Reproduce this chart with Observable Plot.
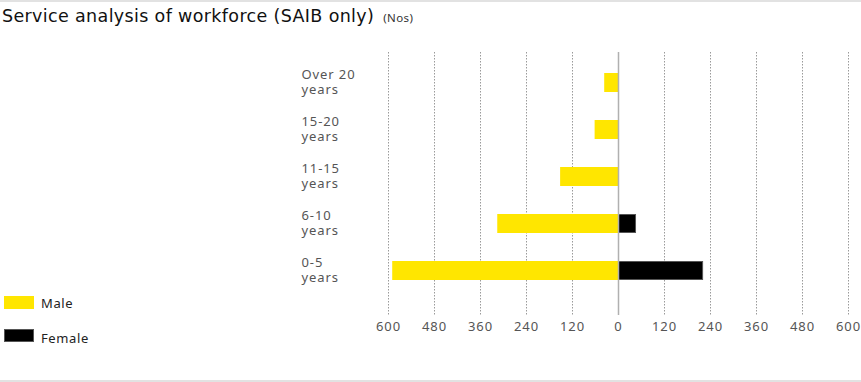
<!DOCTYPE html>
<html>
<head>
<meta charset="utf-8">
<script src="https://cdn.jsdelivr.net/npm/d3@7"></script>
<script src="https://cdn.jsdelivr.net/npm/@observablehq/plot@0.6"></script>
<style>
  html, body { margin: 0; padding: 0; background: #fff; }
  body { width: 861px; height: 382px; position: relative; overflow: hidden; font-family: "Noto Sans", sans-serif; }
  .bar-top { position: absolute; left: 0; top: 0; width: 861px; height: 2px; background: #e2e2e2; }
  .bar-bottom { position: absolute; left: 0; top: 380px; width: 861px; height: 2px; background: #e2e2e2; }
  #title { position: absolute; left: 2px; top: 6px; font-family: "DejaVu Sans", sans-serif; font-size: 17.5px; color: #111; white-space: nowrap; letter-spacing: 0.35px; }
  #title .unit { font-family: "Noto Sans", sans-serif; font-size: 11.5px; color: #333; margin-left: 9px; letter-spacing: 0.4px; }
  #chart { position: absolute; left: 0; top: 40px; }
  .legend { position: absolute; left: 4px; font-size: 13px; color: #222; letter-spacing: 0.6px; }
  .legend .sw { position: absolute; left: 0; width: 30px; height: 13px; }
  .legend .lb { position: absolute; left: 37px; white-space: nowrap; line-height: 16px; }
</style>
</head>
<body>
<div class="bar-top"></div>
<div class="bar-bottom"></div>
<div id="title">Service analysis of workforce (SAIB only)<span class="unit">(Nos)</span></div>
<div id="chart"></div>
<div class="legend" style="top:296px"><div class="sw" style="background:#FFE600;"></div><div class="lb" style="top:-1px">Male</div></div>
<div class="legend" style="top:329px"><div class="sw" style="background:#000;outline:1px solid #555;outline-offset:-1px"></div><div class="lb" style="top:1px">Female</div></div>
<script>
const categories = ["Over 20 years", "15-20 years", "11-15 years", "6-10 years", "0-5 years"];
const male = [36, 61, 151, 315, 589];
const female = [0, 0, 0, 47, 222];
const tickValues = [-600, -480, -360, -240, -120, 0, 120, 240, 360, 480, 600];

const maleData = categories.map((c, i) => ({cat: c, v: male[i]}));
const femaleData = categories.map((c, i) => ({cat: c, v: female[i]})).filter(d => d.v > 0);

const splitLabel = s => { const k = s.lastIndexOf(" "); return s.slice(0, k) + "\n" + s.slice(k + 1); };

const chart = Plot.plot({
  width: 861,
  height: 342,
  marginLeft: 388,
  marginRight: 13,
  marginTop: 12,
  marginBottom: 67,
  style: {fontFamily: "Noto Sans, sans-serif", background: "transparent", letterSpacing: "0.9px"},
  x: {domain: [-600, 600]},
  y: {domain: categories, range: [31.9, 242], paddingInner: 0.586, paddingOuter: 0},
  marks: [
    Plot.ruleX(tickValues.filter(d => d !== 0), {stroke: "#9a9a9a", strokeDasharray: "1.5,1.5", strokeWidth: 1}),
    Plot.barX(maleData, {y: "cat", x1: d => -d.v, x2: 0, fill: "#FFE600"}),
    Plot.barX(femaleData, {y: "cat", x1: 0, x2: "v", fill: "#000", stroke: "#555", strokeWidth: 1, inset: 0.5}),
    Plot.ruleX([0], {stroke: "#b0b0b0", strokeWidth: 1.5}),
    Plot.axisX({ticks: tickValues, tickFormat: d => Math.abs(d), tickSize: 0, tickPadding: 6, fontSize: 13, fill: "#555", label: null}),
    Plot.axisY({tickSize: 0, tickPadding: 0, textAnchor: "start", dx: -87, dy: -1, fontSize: 13, fill: "#555", lineHeight: 1.08, tickFormat: splitLabel, label: null})
  ]
});
document.getElementById("chart").appendChild(chart);
</script>
</body>
</html>
